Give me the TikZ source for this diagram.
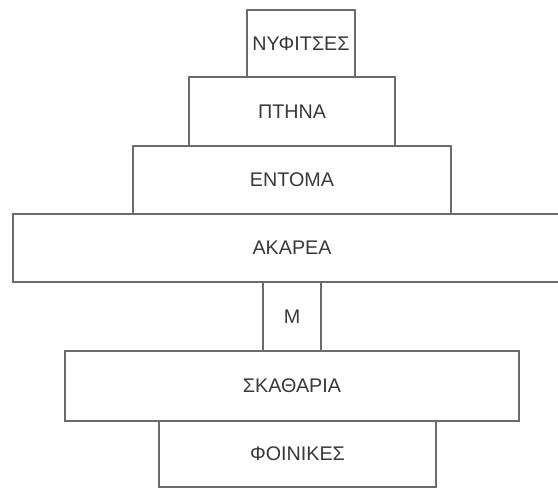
\documentclass[tikz,border=0pt]{standalone}
\usepackage{fontspec}
\setmainfont{Liberation Sans}
\definecolor{boxline}{HTML}{6C6C6C}
\definecolor{boxtext}{HTML}{383838}

\begin{document}
\begin{tikzpicture}[x=0.75pt,y=-0.75pt]
        \tikzstyle{every node} = [rectangle, draw=boxline, line width=1.1pt, inner sep=0pt, outer sep=0pt, text=boxtext, font=\fontsize{14.8pt}{16pt}\selectfont]
        \useasboundingbox (0,0) rectangle (558,488);
        \node[minimum width=81pt, minimum height=50.25pt] (nyfitses) at (301,43.5) {ΝΥΦΙΤΣΕΣ};
        \node[minimum width=154.5pt, minimum height=51.75pt] (ptina) at (292,111.5) {ΠΤΗΝΑ};
        \node[minimum width=238.5pt, minimum height=51pt] (entoma) at (292,180) {ΕΝΤΟΜΑ};
        \node[minimum width=418.5pt, minimum height=51pt] (akarea) at (292,248) {ΑΚΑΡΕΑ};
        \node[minimum width=43.5pt, minimum height=51.75pt] (m) at (292,316.5) {Μ};
        \node[minimum width=340.5pt, minimum height=52.5pt] (skatharia) at (292,386) {ΣΚΑΘΑΡΙΑ};
        \node[minimum width=207.75pt, minimum height=49.5pt] (foinikes) at (297.5,454) {ΦΟΙΝΙΚΕΣ};
    \end{tikzpicture}
\end{document}
